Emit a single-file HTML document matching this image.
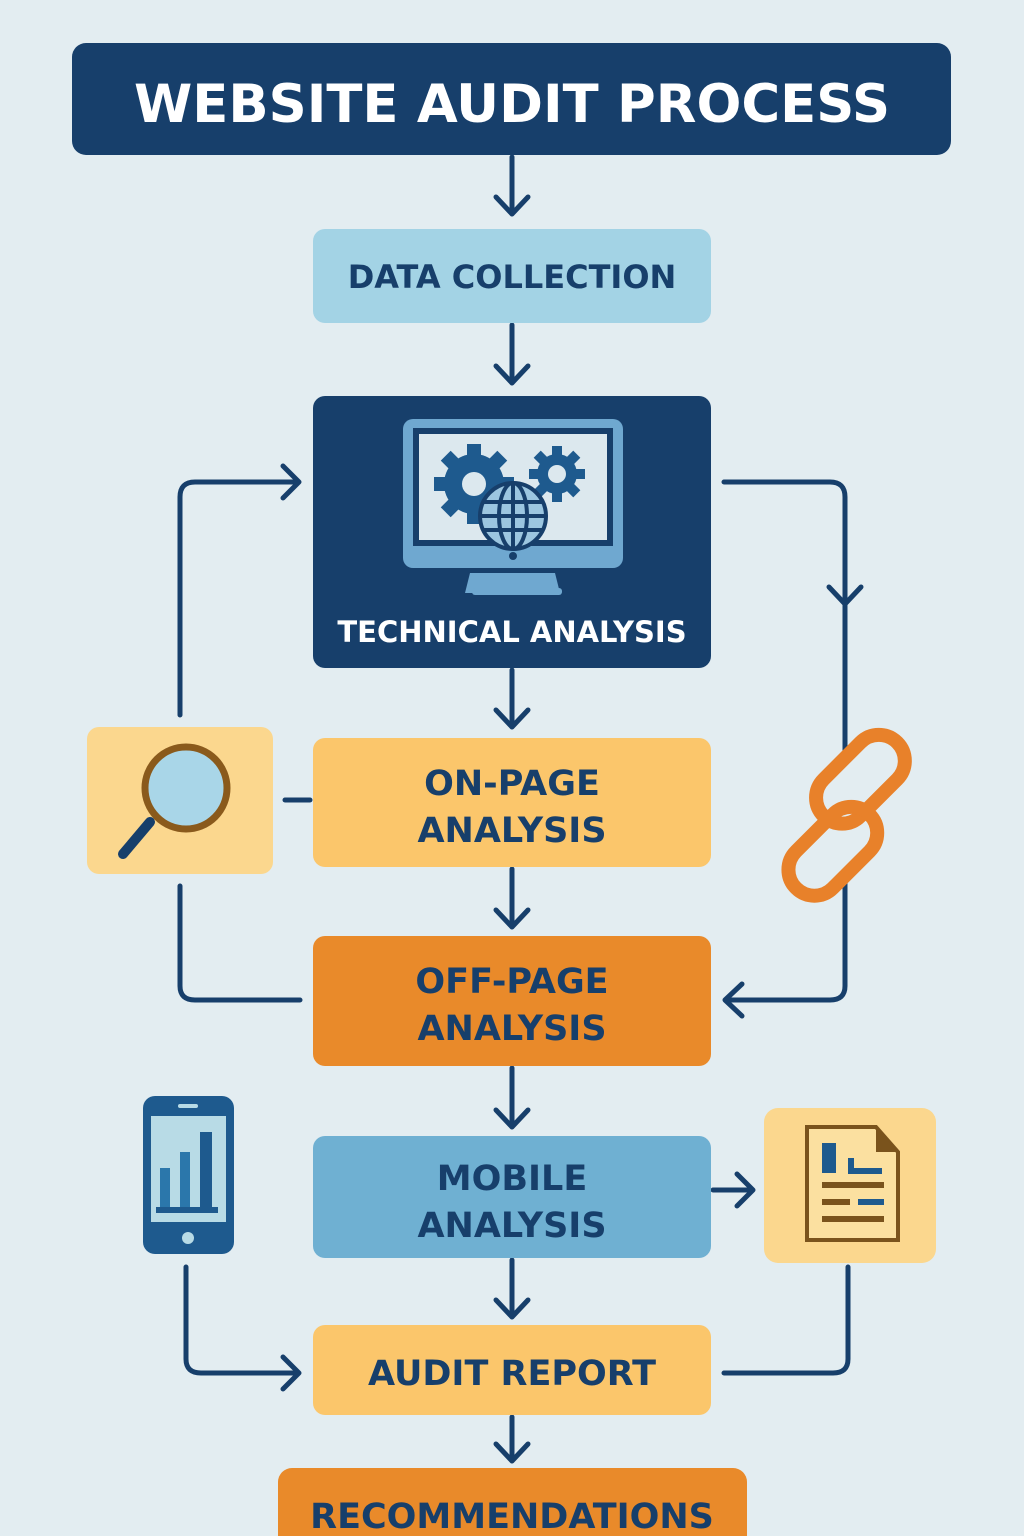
<!DOCTYPE html>
<html><head><meta charset="utf-8"><style>
html,body{margin:0;padding:0;background:#e3edf1;}
svg{display:block}
text{font-family:"DejaVu Sans","Liberation Sans",sans-serif;font-weight:bold;text-anchor:middle}
</style></head><body>
<svg width="1024" height="1536" viewBox="0 0 1024 1536" xmlns="http://www.w3.org/2000/svg">
<rect width="1024" height="1536" fill="#e3edf1"/>
<g fill="none" stroke="#173f6b" stroke-width="5" stroke-linecap="round" stroke-linejoin="round">
<path d="M512 157V213M496 197L512 214L528 197"/>
<path d="M512 325V382M496 366L512 383L528 366"/>
<path d="M512 670V726M496 710L512 727L528 710"/>
<path d="M512 869V926M496 910L512 927L528 910"/>
<path d="M512 1068V1126M496 1110L512 1127L528 1110"/>
<path d="M512 1260V1316M496 1300L512 1317L528 1300"/>
<path d="M512 1417V1460M496 1444L512 1461L528 1444"/>
<path d="M180 715V497Q180 482 195 482H298M283 466L299 482L283 498"/>
<path d="M285 800H310"/>
<path d="M180 886V986Q180 1000 195 1000H300"/>
<path d="M724 482H830Q845 482 845 497V750M829 587L845 604L861 587"/>
<path d="M845 872V986Q845 1000 830 1000H726M742 984L725 1000L742 1016"/>
<path d="M186 1267V1359Q186 1373 201 1373H298M283 1357L299 1373L283 1389"/>
<path d="M713 1190H752M737 1174L753 1190L737 1206"/>
<path d="M848 1267V1359Q848 1373 833 1373H724"/>
</g>
<rect x="72" y="43" width="879" height="112" rx="14" fill="#173f6b"/>
<text x="512" y="122" font-size="53" fill="#fff" textLength="756" lengthAdjust="spacingAndGlyphs">WEBSITE AUDIT PROCESS</text>
<rect x="313" y="229" width="398" height="94" rx="12" fill="#a3d3e5"/>
<text x="512" y="288" font-size="32" fill="#173f6b">DATA COLLECTION</text>
<rect x="313" y="396" width="398" height="272" rx="12" fill="#173f6b"/>
<rect x="403" y="419" width="220" height="149" rx="10" fill="#6fa8d0"/>
<rect x="413" y="428" width="200" height="118" fill="#173f6b"/>
<rect x="419" y="434" width="188" height="106" fill="#dce8ee"/>
<circle cx="513" cy="556" r="4" fill="#173f6b"/>
<path d="M470 573H555L560 593H465Z" fill="#6fa8d0"/>
<rect x="472" y="588" width="90" height="7" rx="3" fill="#6fa8d0"/>
<g fill="#1e5a8e">
<circle cx="474" cy="484" r="30"/>
<g transform="translate(474 484)"><rect x="-7" y="-40" width="14" height="80"/><rect x="-40" y="-7" width="80" height="14"/><rect x="-7" y="-40" width="14" height="80" transform="rotate(45)"/><rect x="-7" y="-40" width="14" height="80" transform="rotate(-45)"/></g>
<circle cx="557" cy="474" r="20"/>
<g transform="translate(557 474)"><rect x="-5" y="-28" width="10" height="56"/><rect x="-28" y="-5" width="56" height="10"/><rect x="-5" y="-28" width="10" height="56" transform="rotate(45)"/><rect x="-5" y="-28" width="10" height="56" transform="rotate(-45)"/></g>
</g>
<circle cx="474" cy="484" r="12" fill="#dce8ee"/>
<circle cx="557" cy="474" r="9" fill="#dce8ee"/>
<g stroke="#173f6b" stroke-width="4" fill="#9cc6e0">
<circle cx="513" cy="516" r="33"/>
<ellipse cx="513" cy="516" rx="14" ry="33" fill="none"/>
<path d="M480 516H546M484 502H542M484 530H542M513 483V549" fill="none"/>
</g>
<text x="512" y="642" font-size="29" fill="#fff">TECHNICAL ANALYSIS</text>
<rect x="313" y="738" width="398" height="129" rx="12" fill="#fbc66b"/>
<text x="512" y="795" font-size="35" fill="#173f6b">ON-PAGE</text>
<text x="512" y="842" font-size="35" fill="#173f6b">ANALYSIS</text>
<rect x="313" y="936" width="398" height="130" rx="12" fill="#e98a2a"/>
<text x="512" y="993" font-size="35" fill="#173f6b">OFF-PAGE</text>
<text x="512" y="1040" font-size="35" fill="#173f6b">ANALYSIS</text>
<rect x="313" y="1136" width="398" height="122" rx="12" fill="#6fb0d2"/>
<text x="512" y="1190" font-size="35" fill="#173f6b">MOBILE</text>
<text x="512" y="1237" font-size="35" fill="#173f6b">ANALYSIS</text>
<rect x="313" y="1325" width="398" height="90" rx="12" fill="#fbc66b"/>
<text x="512" y="1385" font-size="35" fill="#173f6b">AUDIT REPORT</text>
<rect x="278" y="1468" width="469" height="100" rx="14" fill="#e98a2a"/>
<text x="512" y="1528" font-size="35" fill="#173f6b">RECOMMENDATIONS</text>
<rect x="87" y="727" width="186" height="147" rx="12" fill="#fbd78e"/>
<line x1="150" y1="822" x2="123" y2="854" stroke="#173f6b" stroke-width="10" stroke-linecap="round"/>
<circle cx="186" cy="788" r="41" fill="#a9d6e8" stroke="#8a5a1c" stroke-width="7"/>
<g fill="none" stroke="#e8812a" stroke-width="14">
<rect x="830" y="742" width="52" height="104" rx="26" transform="rotate(45 876 792)"/>
<rect x="814" y="794" width="52" height="104" rx="26" transform="rotate(45 830 840)"/>
</g>
<rect x="143" y="1096" width="91" height="158" rx="12" fill="#1e5a8e"/>
<rect x="151" y="1116" width="75" height="106" fill="#b8dbe6"/>
<rect x="178" y="1104" width="20" height="4" rx="2" fill="#b8dbe6"/>
<circle cx="188" cy="1238" r="6" fill="#b8dbe6"/>
<rect x="160" y="1168" width="10" height="40" fill="#2b77ab"/>
<rect x="180" y="1152" width="10" height="56" fill="#2b77ab"/>
<rect x="200" y="1132" width="12" height="76" fill="#1e5a8e"/>
<rect x="156" y="1207" width="62" height="6" fill="#1e5a8e"/>
<rect x="764" y="1108" width="172" height="155" rx="14" fill="#fbd78e"/>
<path d="M807 1127H876L898 1152V1240H807Z" fill="#fbe0a0" stroke="#7a531c" stroke-width="4"/>
<path d="M876 1127V1152H898" fill="#7a531c"/>
<rect x="822" y="1143" width="14" height="30" fill="#1e5a8e"/>
<rect x="848" y="1158" width="6" height="16" fill="#1e5a8e"/>
<rect x="848" y="1168" width="34" height="6" fill="#1e5a8e"/>
<rect x="822" y="1182" width="62" height="6" fill="#7a531c"/>
<rect x="822" y="1199" width="28" height="6" fill="#7a531c"/>
<rect x="858" y="1199" width="26" height="6" fill="#1e5a8e"/>
<rect x="822" y="1216" width="62" height="6" fill="#7a531c"/>
</svg>
</body></html>
